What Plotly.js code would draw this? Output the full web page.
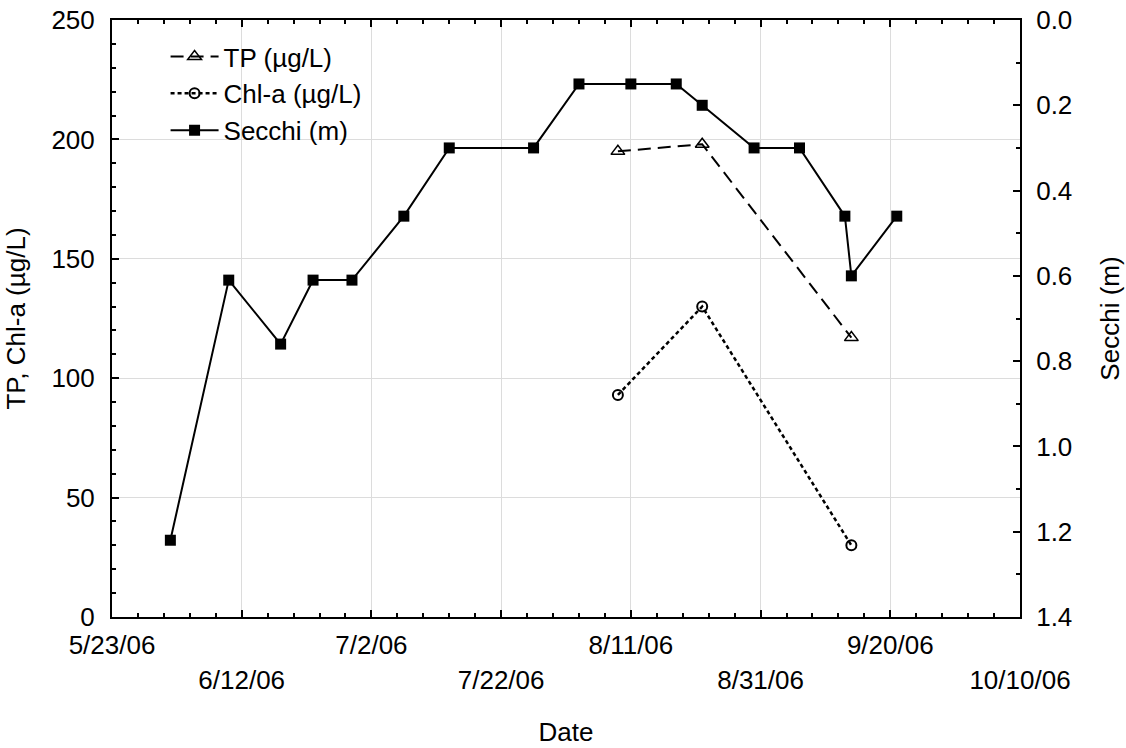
<!DOCTYPE html>
<html>
<head>
<meta charset="utf-8">
<script src="https://cdn.plot.ly/plotly-3.0.1.min.js"></script>
<style>html,body{margin:0;padding:0;background:#fff;}#chart{width:1126px;height:748px;}</style>
</head>
<body>
<div id="chart"></div>
<script>
// ---- data ----
const secchiDates = ['2006-06-01','2006-06-10','2006-06-18','2006-06-23','2006-06-29','2006-07-07','2006-07-14','2006-07-27','2006-08-03','2006-08-11','2006-08-18','2006-08-22','2006-08-30','2006-09-06','2006-09-13','2006-09-14','2006-09-21'];
const secchiValues = [1.22, 0.61, 0.76, 0.61, 0.61, 0.46, 0.30, 0.30, 0.15, 0.15, 0.15, 0.20, 0.30, 0.30, 0.46, 0.60, 0.46];
const nutrientDates = ['2006-08-09','2006-08-22','2006-09-14'];
const tpValues = [195, 198, 117];
const chlValues = [93, 130, 30];
const tickDates = ['2006-05-23','2006-06-12','2006-07-02','2006-07-22','2006-08-11','2006-08-31','2006-09-20','2006-10-10'];
const tickLabels = ['5/23/06','6/12/06','7/2/06','7/22/06','8/11/06','8/31/06','9/20/06','10/10/06'];

const FONT = 'Liberation Sans, Arial, sans-serif';
const FS = 26;
const DAY = 86400000;
const xRange = ['2006-05-23','2006-10-10'];

const row1Text = tickLabels.map((t,i) => i % 2 === 0 ? t : '');
const row2Vals = tickDates.filter((d,i) => i % 2 === 1);
const row2Text = tickLabels.filter((t,i) => i % 2 === 1);

const traces = [
  {
    x: nutrientDates, y: tpValues, name: 'TP (µg/L)', type: 'scatter', mode: 'lines+markers',
    xaxis: 'x', yaxis: 'y', legendgroup: 'a',
    line: {color: '#000', width: 2, dash: '13px,7px'},
    marker: {symbol: 'triangle-up-open', size: 12, color: '#000', line: {width: 1.5, color: '#000'}}
  },
  {
    x: nutrientDates, y: chlValues, name: 'Chl-a (µg/L)', type: 'scatter', mode: 'lines+markers',
    xaxis: 'x', yaxis: 'y', legendgroup: 'b',
    line: {color: '#000', width: 2.5, dash: '4px,3px'},
    marker: {symbol: 'circle-open', size: 10, color: '#000', line: {width: 2, color: '#000'}}
  },
  {
    x: secchiDates, y: secchiValues, name: 'Secchi (m)', type: 'scatter', mode: 'lines+markers',
    xaxis: 'x2', yaxis: 'y2', legendgroup: 'c',
    line: {color: '#000', width: 2},
    marker: {symbol: 'square', size: 11, color: '#000'}
  }
];

const layout = {
  width: 1126, height: 748,
  margin: {l: 112, r: 106, t: 20, b: 131},
  paper_bgcolor: '#fff', plot_bgcolor: '#fff',
  font: {family: FONT, size: FS, color: '#000'},
  showlegend: true,
  legend: {x: 0.059, y: 0.978, xanchor: 'left', yanchor: 'top', bgcolor: 'rgba(0,0,0,0)',
           traceorder: 'grouped', tracegroupgap: 0, itemwidth: 48, font: {family: FONT, size: FS}},
  xaxis: {
    type: 'date', range: xRange, tickmode: 'array', tickvals: tickDates, ticktext: row1Text,
    showgrid: true, gridcolor: '#dcdcdc', gridwidth: 1,
    showline: true, linecolor: '#000', linewidth: 2, mirror: 'ticks',
    ticks: 'inside', ticklen: 7, tickwidth: 2, tickcolor: '#000',
    ticklabelstandoff: 4,
    minor: {tickmode: 'linear', tick0: '2006-05-23', dtick: 4 * DAY, ticks: 'inside', ticklen: 4, tickwidth: 2, tickcolor: '#000', showgrid: false},
    zeroline: false,
    title: {text: 'Date', font: {family: FONT, size: FS}, standoff: 64}
  },
  xaxis2: {
    type: 'date', range: xRange, overlaying: 'x', side: 'bottom', anchor: 'y',
    tickmode: 'array', tickvals: row2Vals, ticktext: row2Text,
    showgrid: false, showline: false, ticks: '', ticklabelstandoff: 45, zeroline: false
  },
  yaxis: {
    range: [0, 250], tickmode: 'linear', tick0: 0, dtick: 50,
    showgrid: true, gridcolor: '#dcdcdc', gridwidth: 1,
    showline: true, linecolor: '#000', linewidth: 2, mirror: false,
    ticks: 'inside', ticklen: 7, tickwidth: 2, tickcolor: '#000',
    ticklabelstandoff: 10,
    minor: {tickmode: 'linear', tick0: 0, dtick: 10, ticks: 'inside', ticklen: 4, tickwidth: 2, tickcolor: '#000', showgrid: false},
    zeroline: false,
    title: {text: 'TP, Chl-a (µg/L)', font: {family: FONT, size: FS}, standoff: 18}
  },
  yaxis2: {
    range: [1.4, 0], overlaying: 'y', side: 'right', anchor: 'x',
    tickmode: 'linear', tick0: 0, dtick: 0.2, tickformat: '.1f',
    showgrid: false, showline: true, linecolor: '#000', linewidth: 2,
    ticks: 'inside', ticklen: 7, tickwidth: 2, tickcolor: '#000',
    ticklabelstandoff: 9,
    minor: {tickmode: 'linear', tick0: 0, dtick: 0.1, ticks: 'inside', ticklen: 4, tickwidth: 2, tickcolor: '#000', showgrid: false},
    zeroline: false,
    title: {text: 'Secchi (m)', font: {family: FONT, size: FS}, standoff: 29}
  }
};

Plotly.newPlot('chart', traces, layout, {displayModeBar: false, staticPlot: true});
</script>
</body>
</html>
